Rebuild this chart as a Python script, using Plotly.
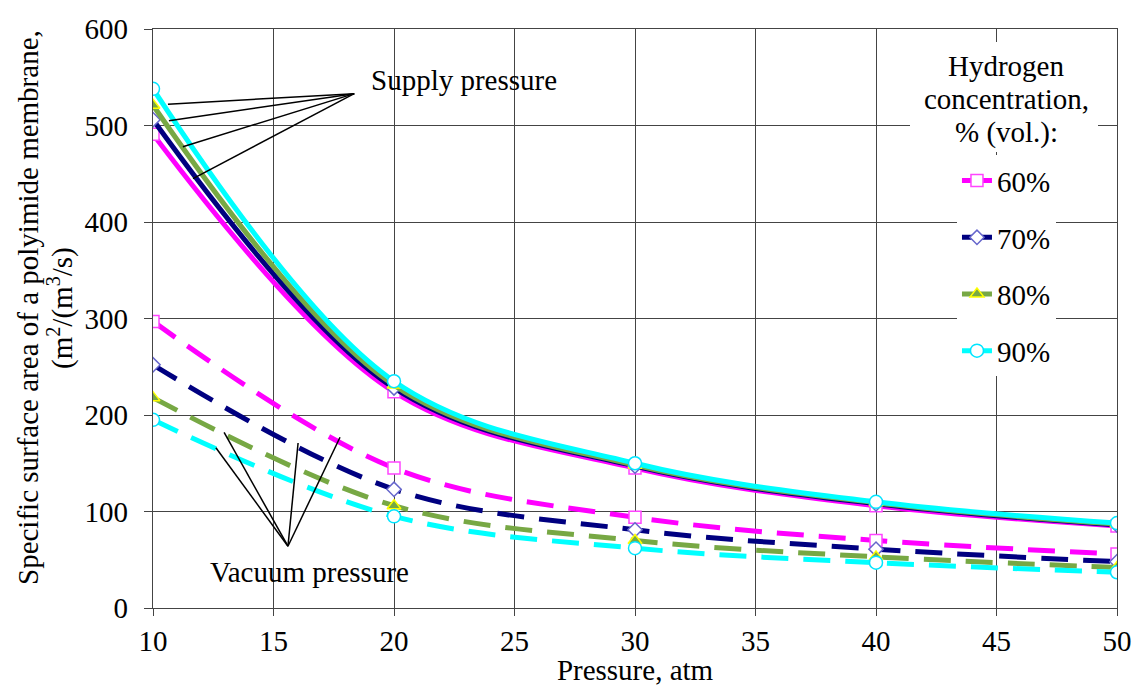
import plotly.graph_objects as go

pressure = [10, 20, 30, 40, 50]
labels = ["60%", "70%", "80%", "90%"]
supply = {
    "60%": [491, 224, 145, 106, 85],
    "70%": [506, 228, 147, 108, 86],
    "80%": [521, 231, 148, 109, 87],
    "90%": [538, 235, 150, 110, 88],
}
vacuum = {
    "60%": [297, 145, 94, 70, 56],
    "70%": [252, 123, 81, 61, 48],
    "80%": [218, 106, 70, 53, 42],
    "90%": [195, 95, 62, 47, 37],
}
legend_title_lines = ["Hydrogen", "concentration,", "% (vol.):"]
y_title_lines = ["Specific surface area of a polyimide membrane,", "(m<sup>2</sup>/(m<sup>3</sup>/s)"]
x_title = "Pressure, atm"

line_colors = {"60%": "#ff00ff", "70%": "#000080", "80%": "#77a844", "90%": "#00ffff"}
symbols = {"60%": "square", "70%": "diamond", "80%": "triangle-up", "90%": "circle"}
fills = {"60%": "white", "70%": "white", "80%": "#77a844", "90%": "white"}
edges = {"60%": "#ff44ff", "70%": "#6666cc", "80%": "#ffff00", "90%": "#00e5ff"}
sizes = {"60%": 12, "70%": 11, "80%": 12, "90%": 13}

FONT = "Liberation Serif"
FS = 29
fig = go.Figure()

for lab in labels:
    mk = dict(symbol=symbols[lab], size=sizes[lab], color=fills[lab],
              line=dict(color=edges[lab], width=1.5))
    fig.add_trace(go.Scatter(
        x=pressure, y=vacuum[lab], mode="lines+markers", name=lab,
        legendgroup=lab, showlegend=False,
        line=dict(color=line_colors[lab], width=5, dash="27px,15px", shape="spline"),
        marker=mk))

for lab in labels:
    mk = dict(symbol=symbols[lab], size=sizes[lab], color=fills[lab],
              line=dict(color=edges[lab], width=1.5))
    fig.add_trace(go.Scatter(
        x=pressure, y=supply[lab], mode="lines+markers", name=lab,
        legendgroup=lab, showlegend=True,
        line=dict(color=line_colors[lab], width=5, shape="spline"),
        marker=mk))

# leader lines
supply_origin = (18.35, 533)
supply_targets = [(10.62, 522), (10.66, 505), (11.24, 478), (11.66, 445)]
vac_origin = (15.6, 64)
vac_targets = [(12.61, 166), (12.95, 182), (16.02, 171), (17.76, 177)]
shapes = []
for tx, ty in supply_targets:
    shapes.append(dict(type="line", xref="x", yref="y", x0=supply_origin[0], y0=supply_origin[1],
                       x1=tx, y1=ty, line=dict(color="black", width=1.5), layer="above"))
for tx, ty in vac_targets:
    shapes.append(dict(type="line", xref="x", yref="y", x0=vac_origin[0], y0=vac_origin[1],
                       x1=tx, y1=ty, line=dict(color="black", width=1.5), layer="above"))

def px2x(px):
    return (px - 153) / 964.0
def px2y(py):
    return (608 - py) / 579.0

# white box behind the legend title (covers grid lines like in the source)
shapes.append(dict(type="rect", xref="paper", yref="paper",
                   x0=px2x(910), x1=px2x(1098), y0=px2y(152), y1=px2y(42),
                   fillcolor="white", line=dict(width=0), layer="above"))

annotations = [
    dict(x=22.9, y=547, xref="x", yref="y", text="Supply pressure", showarrow=False,
         font=dict(family=FONT, size=FS, color="black")),
    dict(x=16.5, y=37, xref="x", yref="y", text="Vacuum pressure", showarrow=False,
         font=dict(family=FONT, size=FS, color="black")),
]
for i, t in enumerate(legend_title_lines):
    annotations.append(dict(x=px2x(1006), y=px2y(66 + 33 * i), xref="paper", yref="paper",
                            xanchor="center", yanchor="middle", text=t, showarrow=False,
                            font=dict(family=FONT, size=FS, color="black")))
for i, t in enumerate(y_title_lines):
    annotations.append(dict(x=px2x(28 + 32 * i), y=px2y(308), xref="paper", yref="paper",
                            xanchor="center", yanchor="middle", textangle=-90, text=t,
                            showarrow=False, font=dict(family=FONT, size=FS, color="black")))

fig.update_layout(
    width=1134, height=686,
    margin=dict(l=153, r=17, t=29, b=78),
    paper_bgcolor="white", plot_bgcolor="white",
    font=dict(family=FONT, size=FS, color="black"),
    shapes=shapes, annotations=annotations,
    legend=dict(x=0.834, y=0.782, xanchor="left", yanchor="top",
                bgcolor="white", font=dict(family=FONT, size=FS, color="black"),
                tracegroupgap=16, traceorder="grouped"),
)
fig.update_xaxes(range=[10, 50], dtick=5, showgrid=True, gridcolor="#444", gridwidth=1.3,
                 showline=True, linecolor="#444", linewidth=1.3, mirror=True,
                 ticks="outside", ticklen=7, tickcolor="#444", zeroline=False,
                 automargin=False, tickfont=dict(family=FONT, size=FS),
                 title=dict(text=x_title, standoff=0, font=dict(family=FONT, size=FS)))
fig.update_yaxes(range=[0, 600], dtick=100, showgrid=True, gridcolor="#444", gridwidth=1.3,
                 showline=True, linecolor="#444", linewidth=1.3, mirror=True,
                 ticks="outside", ticklen=8, tickcolor="#444", zeroline=False,
                 automargin=False, ticklabelstandoff=10, tickfont=dict(family=FONT, size=FS))

fig.write_html("out.html")
